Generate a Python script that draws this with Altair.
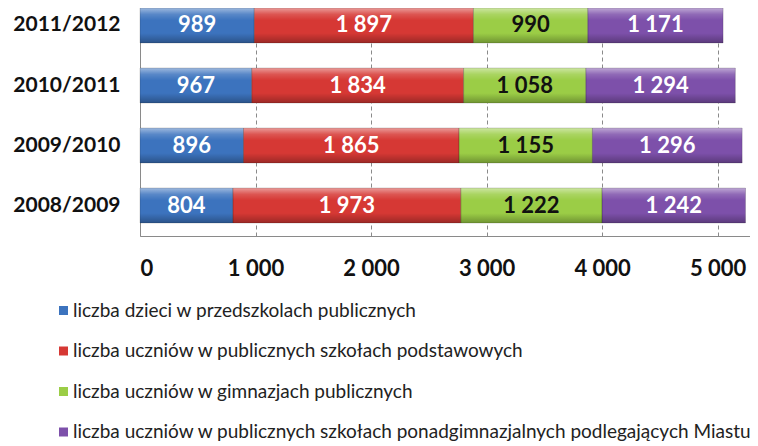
import altair as alt
import pandas as pd

years = ["2011/2012", "2010/2011", "2009/2010", "2008/2009"]
categories = [
    "liczba dzieci w przedszkolach publicznych",
    "liczba uczniów w publicznych szkołach podstawowych",
    "liczba uczniów w gimnazjach publicznych",
    "liczba uczniów w publicznych szkołach ponadgimnazjalnych podlegających Miastu",
]
przedszkola = [989, 967, 896, 804]
podstawowe = [1897, 1834, 1865, 1973]
gimnazja = [990, 1058, 1155, 1222]
ponadgimnazjalne = [1171, 1294, 1296, 1242]
x_ticks = [0, 1000, 2000, 3000, 4000, 5000]
colors = ["#3C73BE", "#D63834", "#9BCD46", "#7D50AA"]

series = [przedszkola, podstawowe, gimnazja, ponadgimnazjalne]
rows = []
for ci, (cat, vals) in enumerate(zip(categories, series)):
    for y, v in zip(years, vals):
        rows.append({"year": y, "cat": cat, "order": ci, "value": v,
                     "label": f"{v:,}".replace(",", " ")})
df = pd.DataFrame(rows)

yenc = alt.Y("year:N", sort=years, title=None,
             scale=alt.Scale(paddingInner=0.4167, paddingOuter=0.1083, align=0),
             axis=alt.Axis(domain=True, domainColor="#8a8a8a", ticks=False, grid=False,
                           labelFont="Lato", labelFontWeight="bold", labelFontSize=21,
                           labelColor="#111111", labelPadding=20))

xenc = alt.X("x0:Q", title=None,
             scale=alt.Scale(domain=[0, 5280], nice=False, zero=True),
             axis=alt.Axis(values=x_ticks, grid=True, gridDash=[4, 3], gridColor="#8a8a8a",
                           domain=True, domainColor="#8a8a8a", ticks=False,
                           labelFont="Lato", labelFontWeight="bold", labelFontSize=22,
                           labelColor="#111111", labelPadding=22,
                           labelExpr="replace(format(datum.value, ','), ',', ' ')"))

base = alt.Chart(df).transform_stack(
    stack="value", as_=["x0", "x1"], groupby=["year"], sort=[alt.SortField("order")]
).transform_calculate(mid="(datum.x0 + datum.x1) / 2")

bars = base.mark_bar().encode(
    y=yenc, x=xenc, x2="x1:Q",
    color=alt.Color("cat:N", sort=categories,
                    scale=alt.Scale(domain=categories, range=colors),
                    legend=alt.Legend(title=None, orient="none", legendX=-86, legendY=293,
                                      padding=0,
                                      symbolType="square", symbolSize=81,
                                      symbolStrokeWidth=0,
                                      labelFont="Lato", labelFontSize=19,
                                      labelColor="#222222", labelLimit=900,
                                      labelOffset=0, rowPadding=20.5)),
)

gradient = alt.Gradient(
    gradient="linear", x1=0, y1=0, x2=0, y2=1,
    stops=[
        alt.GradientStop(color="rgba(255,255,255,0.5)", offset=0),
        alt.GradientStop(color="rgba(255,255,255,0.15)", offset=0.18),
        alt.GradientStop(color="rgba(255,255,255,0)", offset=0.35),
        alt.GradientStop(color="rgba(0,0,0,0)", offset=0.72),
        alt.GradientStop(color="rgba(0,0,0,0.28)", offset=1),
    ],
)
overlay = base.mark_bar(color=gradient, stroke="rgba(0,0,0,0.2)", strokeWidth=0.8).encode(
    y=alt.Y("year:N", sort=years), x="x0:Q", x2="x1:Q"
)

texts = base.mark_text(font="Lato", fontWeight="bold", fontSize=22, baseline="middle").encode(
    y=alt.Y("year:N", sort=years), x="mid:Q", text="label:N",
    color=alt.condition(alt.datum.order == 2, alt.value("#111111"), alt.value("#ffffff")),
)

chart = alt.layer(bars, overlay, texts).properties(
    width=610, height=228,
    autosize=alt.AutoSizeParams(type="none"),
    padding={"left": 132, "top": 0, "right": 0, "bottom": 210},
).configure_view(stroke=None)

chart.save("out.html", embed_options={"renderer": "svg", "actions": False})
